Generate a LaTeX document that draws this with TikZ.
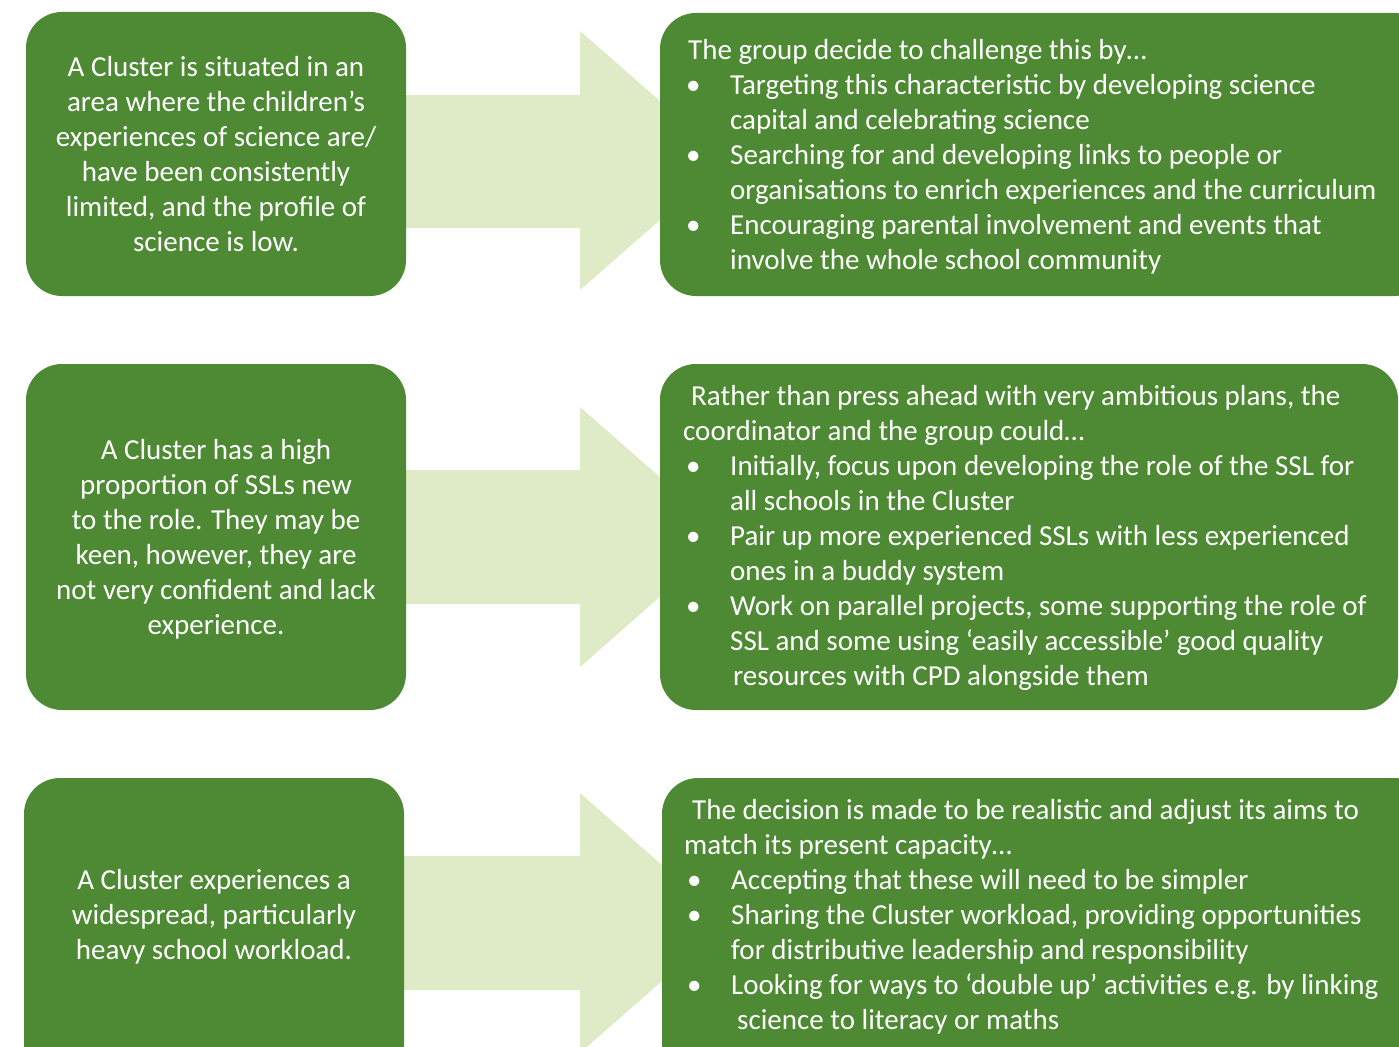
\documentclass[tikz,border=0pt]{standalone}
\usepackage{fontspec}
\setmainfont{Carlito}
\definecolor{boxgreen}{RGB}{78,138,51}
\definecolor{arrowgreen}{RGB}{223,234,198}
% bullet set in a fixed-width slot, and the matching indent for wrapped lines
\newcommand\bul{\makebox[47pt][l]{\hspace*{3pt}\textbullet}}
\newcommand\ind{\hspace*{47pt}}
\begin{document}
\begin{tikzpicture}[x=1pt,y=-1pt,
  panel/.style={fill=boxgreen, rounded corners=36pt},
  bigarrow/.style={fill=arrowgreen},
  body/.style={text=white, inner sep=0pt, font=\fontsize{29}{35}\selectfont},
]
\useasboundingbox (0,0) rectangle (1399,1046);
\begin{scope}
\clip (0,0) rectangle (1399,1046);

% block arrows (behind the panels)
\fill[bigarrow] (390,95) -- (580,95) -- (580,31) -- (728,160.5) -- (580,290) -- (580,228) -- (390,228) -- cycle;
\fill[bigarrow] (390,470) -- (580,470) -- (580,407) -- (728,537) -- (580,667) -- (580,604) -- (390,604) -- cycle;
\fill[bigarrow] (390,856) -- (580,856) -- (580,793) -- (728,923) -- (580,1053) -- (580,990) -- (390,990) -- cycle;

% panels
\fill[panel] (26,12) rectangle (406,296);
\fill[panel] (660,13) rectangle (1430,296);
\fill[panel] (26,364) rectangle (406,710);
\fill[panel] (660,364) rectangle (1398,710);
\fill[panel] (24,778) rectangle (404,1090);
\fill[panel] (662,778) rectangle (1430,1090);
\end{scope}

% situations (anchored at the baseline of the last line)
\node[body, anchor=base, align=center] (c1) at (216,251) {A Cluster is situated in an\\ area where the children’s\\ experiences of science are/\\ have been consistently\\ limited, and the profile of\\ science is low.};
\node[body, anchor=base, align=center] (c2) at (216,634) {A Cluster has a high\\ proportion of SSLs new\\ to the role. They may be\\ keen, however, they are\\ not very confident and lack\\ experience.};
\node[body, anchor=base, align=center] (c3) at (214,959) {A Cluster experiences a\\ widespread, particularly\\ heavy school workload.};

% responses
\node[body, anchor=base west, align=left] (r1) at (683,269) {\hspace*{5pt}The group decide to challenge this by…\\
\bul Targeting this characteristic by developing science\\
\ind capital and celebrating science\\
\bul Searching for and developing links to people or\\
\ind organisations to enrich experiences and the curriculum\\
\bul Encouraging parental involvement and events that\\
\ind involve the whole school community};

\node[body, anchor=base west, align=left] (r2) at (683,685) {\hspace*{8pt}Rather than press ahead with very ambitious plans, the\\
coordinator and the group could…\\
\bul Initially, focus upon developing the role of the SSL for\\
\ind all schools in the Cluster\\
\bul Pair up more experienced SSLs with less experienced\\
\ind ones in a buddy system\\
\bul Work on parallel projects, some supporting the role of\\
\ind SSL and some using ‘easily accessible’ good quality\\
\ind\hspace*{3pt}resources with CPD alongside them};

\node[body, anchor=base west, align=left] (r3) at (684,1029) {\hspace*{8pt}The decision is made to be realistic and adjust its aims to\\
match its present capacity…\\
\bul Accepting that these will need to be simpler\\
\bul Sharing the Cluster workload, providing opportunities\\
\ind for distributive leadership and responsibility\\
\bul Looking for ways to ‘double up’ activities e.g. by linking\\
\ind\hspace*{6pt}science to literacy or maths};
\end{tikzpicture}
\end{document}
